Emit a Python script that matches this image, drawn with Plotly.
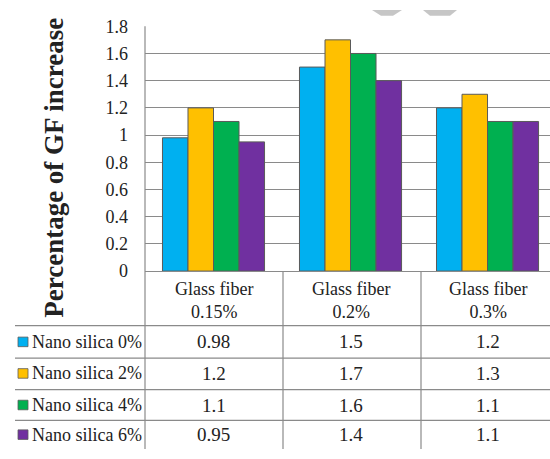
import plotly.graph_objects as go

# Data
groups = ["Glass fiber<br>0.15%", "Glass fiber<br>0.2%", "Glass fiber<br>0.3%"]
series_names = ["Nano silica 0%", "Nano silica 2%", "Nano silica 4%", "Nano silica 6%"]
silica_0 = [0.98, 1.5, 1.2]
silica_2 = [1.2, 1.7, 1.3]
silica_4 = [1.1, 1.6, 1.1]
silica_6 = [0.95, 1.4, 1.1]
series_values = [silica_0, silica_2, silica_4, silica_6]
colors = ["#00B0F0", "#FFC000", "#00B050", "#7030A0"]
y_ticks = [0, 0.2, 0.4, 0.6, 0.8, 1, 1.2, 1.4, 1.6, 1.8]

W, H = 550, 459
FONT = "Liberation Serif"
LINE = "#8a8a8a"


def px(x):
    return x / W


def py(y):
    return 1 - y / H


# Layout geometry (pixels)
plot_left, plot_top, plot_bottom = 145, 17, 273
row_lines = [330, 364, 397, 429]
row_centers = [347, 380, 413, 444]
col_lines = [283, 421]

x_pos = list(range(len(groups)))

fig = go.Figure()
for name, vals, col in zip(series_names, series_values, colors):
    fig.add_trace(go.Bar(
        x=x_pos, y=vals, name=name,
        marker=dict(color=col, line=dict(color="#5a5a5a", width=1)),
        showlegend=False,
    ))

shapes = []
# horizontal table lines
for yl in row_lines:
    shapes.append(dict(type="line", xref="paper", yref="paper",
                       x0=px(15), x1=1, y0=py(yl), y1=py(yl),
                       line=dict(color=LINE, width=1.2)))
# vertical table lines
shapes.append(dict(type="line", xref="paper", yref="paper",
                   x0=px(plot_left), x1=px(plot_left), y0=py(plot_top), y1=0,
                   line=dict(color=LINE, width=1.2)))
for xl in col_lines:
    shapes.append(dict(type="line", xref="paper", yref="paper",
                       x0=px(xl), x1=px(xl), y0=py(plot_bottom), y1=0,
                       line=dict(color=LINE, width=1.2)))
# legend keys in the row headers
for yc, col in zip(row_centers, colors):
    shapes.append(dict(type="rect", xref="paper", yref="paper",
                       x0=px(18), x1=px(28), y0=py(yc + 5), y1=py(yc - 5),
                       fillcolor=col, line=dict(color="#5a5a5a", width=0.8)))
# faint grey chevrons at the top edge
shapes.append(dict(type="path", xref="paper", yref="paper",
                   path=f"M {px(372)} {py(0)} L {px(402)} {py(0)} L {px(393)} {py(6)} L {px(381)} {py(6)} Z",
                   fillcolor="#c6c6c6", line=dict(width=0)))
shapes.append(dict(type="path", xref="paper", yref="paper",
                   path=f"M {px(423)} {py(0)} L {px(457)} {py(0)} L {px(450)} {py(6)} L {px(430)} {py(6)} Z",
                   fillcolor="#c6c6c6", line=dict(width=0)))

annotations = []
# column headers
for i, g in enumerate(groups):
    annotations.append(dict(x=i, xref="x", y=py(304), yref="paper", text=g,
                            showarrow=False, xanchor="center", yanchor="middle",
                            font=dict(family=FONT, size=18, color="#222"),
                            align="center"))
# row headers and values
for name, vals, yc in zip(series_names, series_values, row_centers):
    annotations.append(dict(x=px(30), xref="paper", y=py(yc), yref="paper",
                            text=name, showarrow=False, xanchor="left", yanchor="middle",
                            font=dict(family=FONT, size=18, color="#222")))
    for i, v in enumerate(vals):
        annotations.append(dict(x=i, xref="x", y=py(yc), yref="paper",
                                text=f"{v:g}", showarrow=False,
                                xanchor="center", yanchor="middle",
                                font=dict(family=FONT, size=19, color="#222")))
# axis title
annotations.append(dict(x=px(54), xref="paper", y=py(165), yref="paper",
                        text="<b>Percentage of GF increase</b>", textangle=-90,
                        showarrow=False, xanchor="center", yanchor="middle",
                        font=dict(family=FONT, size=27, color="#222")))

fig.update_layout(
    width=W, height=H,
    margin=dict(l=0, r=0, t=0, b=0),
    paper_bgcolor="white", plot_bgcolor="white",
    barmode="group", bargap=0.255, bargroupgap=0,
    xaxis=dict(domain=[px(plot_left), 1], range=[-0.5, 2.456],
               showticklabels=False, showgrid=False, zeroline=False,
               showline=True, linecolor=LINE, linewidth=1.2, ticks=""),
    yaxis=dict(domain=[py(plot_bottom), py(plot_top)], range=[0, 1.8],
               tickvals=y_ticks, showgrid=True, gridcolor=LINE, gridwidth=1.2,
               zeroline=False, showline=False, ticks="",
               ticklabelstandoff=16,
               tickfont=dict(family=FONT, size=18, color="#222")),
    shapes=shapes, annotations=annotations,
)

fig.write_html("out.html")
